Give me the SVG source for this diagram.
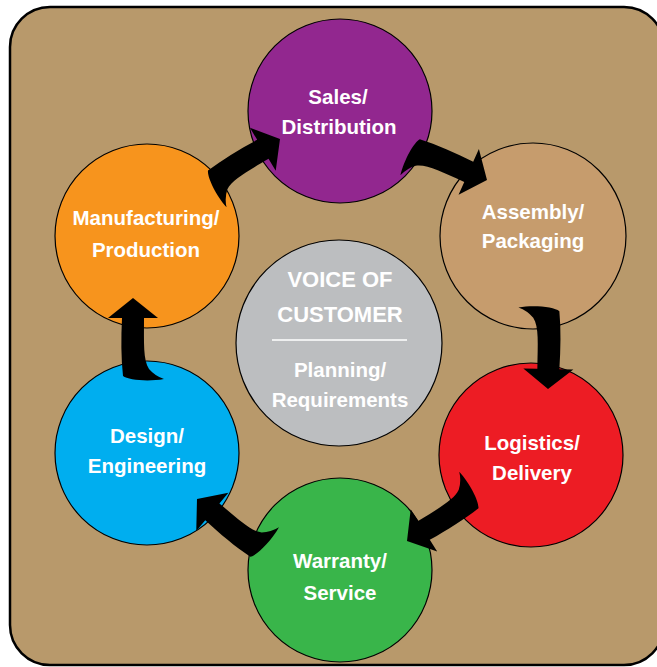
<svg xmlns="http://www.w3.org/2000/svg" width="657" height="667" viewBox="0 0 657 667">
<defs>
<style>
.node{stroke:#000;stroke-width:1.2}
.lbl{font-family:"Liberation Sans",Arial,sans-serif;font-weight:bold;font-size:20.5px;fill:#fff;text-anchor:middle}
.big{font-size:22px}
.arrow{fill:#000}
</style>
<path id="arw" d="M0,0 L25,20 L11,20 C11,45 10,62 16,71 Q22,78 31,81 C15,84 -5,82 -10,78 C-12,60 -12,40 -11,20 L-25,20 Z"/>
</defs>
<rect x="10" y="7" width="654" height="658" rx="40" ry="40" fill="#B8996B" stroke="#000" stroke-width="2.5"/>
<g id="center">
<circle class="node" cx="339" cy="343" r="103" fill="#BCBEC0"/>
<text class="lbl big" x="340" y="287">VOICE OF</text>
<text class="lbl big" x="340" y="322">CUSTOMER</text>
<line x1="272" y1="340" x2="407" y2="340" stroke="#fff" stroke-width="1.5"/>
<text class="lbl" x="340" y="377">Planning/</text>
<text class="lbl" x="340" y="407">Requirements</text>
</g>
<g id="sales">
<circle class="node" cx="340" cy="111" r="92" fill="#92278F"/>
<text class="lbl" x="338" y="104">Sales/</text>
<text class="lbl" x="339" y="134">Distribution</text>
</g>
<g id="assembly">
<circle class="node" cx="533" cy="236" r="93" fill="#C69C6D"/>
<text class="lbl" x="533" y="219">Assembly/</text>
<text class="lbl" x="533" y="248">Packaging</text>
</g>
<g id="logistics">
<circle class="node" cx="531" cy="455" r="92" fill="#ED1C24"/>
<text class="lbl" x="532" y="450">Logistics/</text>
<text class="lbl" x="532" y="480">Delivery</text>
</g>
<g id="warranty">
<circle class="node" cx="340" cy="570" r="92" fill="#39B54A"/>
<text class="lbl" x="340" y="568">Warranty/</text>
<text class="lbl" x="340" y="600">Service</text>
</g>
<g id="design">
<circle class="node" cx="147" cy="453" r="92" fill="#00AEEF"/>
<text class="lbl" x="147" y="443">Design/</text>
<text class="lbl" x="147" y="473">Engineering</text>
</g>
<g id="manufacturing">
<circle class="node" cx="147" cy="236" r="92" fill="#F7941D"/>
<text class="lbl" x="146" y="225">Manufacturing/</text>
<text class="lbl" x="146" y="257">Production</text>
</g>
<g id="connectors" class="arrow">
<use href="#arw" transform="translate(280,139) rotate(59)"/>
<use href="#arw" transform="translate(487,180) rotate(114)"/>
<use href="#arw" transform="translate(548,389) rotate(181)"/>
<use href="#arw" transform="translate(407,541) rotate(238)"/>
<use href="#arw" transform="translate(133,298) rotate(0)"/>
<use href="#arw" transform="translate(197,499) rotate(-50)"/>
</g>
</svg>
